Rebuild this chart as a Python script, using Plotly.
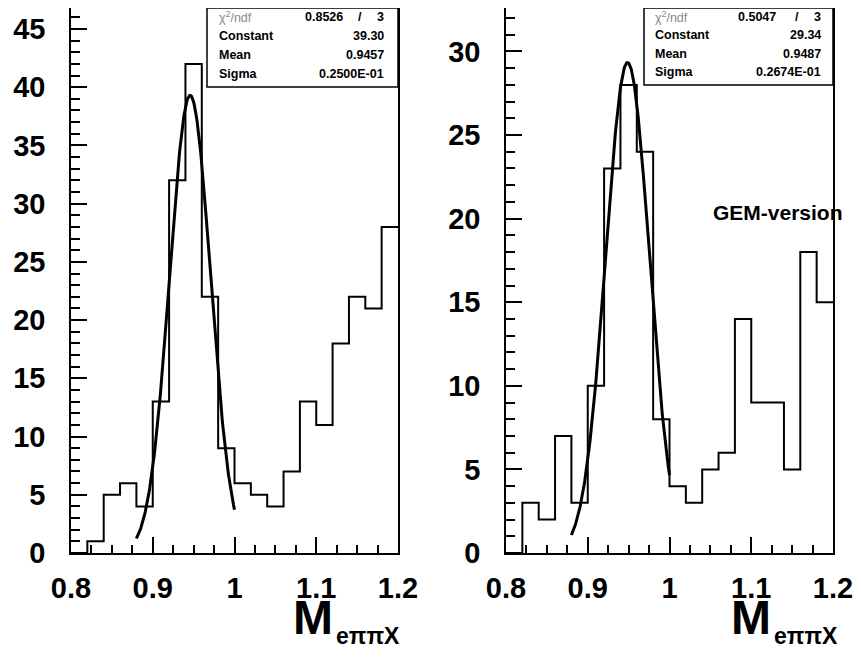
import numpy as np
import plotly.graph_objects as go

# ---------------- data ----------------
bin_edges = [0.80, 0.82, 0.84, 0.86, 0.88, 0.90, 0.92, 0.94, 0.96, 0.98, 1.00,
             1.02, 1.04, 1.06, 1.08, 1.10, 1.12, 1.14, 1.16, 1.18, 1.20]
left_counts = [0, 1, 5, 6, 4, 13, 32, 42, 22, 9, 6, 5, 4, 7, 13, 11, 18, 22, 21, 28]
right_counts = [0, 3, 2, 7, 3, 10, 23, 28, 24, 8, 4, 3, 5, 6, 14, 9, 9, 5, 18, 15]

# Gaussian fit results (from stats boxes) and fit range
left_fit = {"chi2": "0.8526", "ndf": "3", "const": 39.30, "mean": 0.9457, "sigma": 0.02500,
            "const_txt": "39.30", "mean_txt": "0.9457", "sigma_txt": "0.2500E-01"}
right_fit = {"chi2": "0.5047", "ndf": "3", "const": 29.34, "mean": 0.9487, "sigma": 0.02674,
             "const_txt": "29.34", "mean_txt": "0.9487", "sigma_txt": "0.2674E-01"}
fit_range = [0.88, 1.00]

x_tickvals = [0.8, 0.9, 1.0, 1.1, 1.2]
x_ticktext = ["0.8", "0.9", "1", "1.1", "1.2"]
left_yrange = [0, 46.8]
right_yrange = [0, 32.6]

# ---------------- layout helpers ----------------
# page body has an 8px margin: figure is sized to the visible window area
OFF = 8
W, H = 861 - OFF, 657 - OFF
def fx(px):
    return (px - OFF) / W
def fy(py):
    return min(1.0, 1 - (py - OFF) / H)

FONT = "Liberation Sans"

fig = go.Figure()

def add_panel(counts, fit, xa, ya):
    fig.add_trace(go.Scatter(
        x=bin_edges, y=counts + [counts[-1]], mode="lines",
        line=dict(shape="hv", color="black", width=2),
        xaxis=xa, yaxis=ya, hoverinfo="skip"))
    xf = np.linspace(fit_range[0], fit_range[1], 200)
    yf = fit["const"] * np.exp(-0.5 * ((xf - fit["mean"]) / fit["sigma"]) ** 2)
    fig.add_trace(go.Scatter(
        x=xf, y=yf, mode="lines", line=dict(color="black", width=3),
        xaxis=xa, yaxis=ya, hoverinfo="skip"))

add_panel(left_counts, left_fit, "x", "y")
add_panel(right_counts, right_fit, "x2", "y2")

tickfont = dict(family=FONT, size=29, color="black", weight="bold")

def xaxis_dict(d0, d1, anchor):
    return dict(domain=[fx(d0), fx(d1)], range=[0.8, 1.2], anchor=anchor,
                tickmode="array", tickvals=x_tickvals, ticktext=x_ticktext,
                ticks="inside", ticklen=16, tickwidth=1.5, tickcolor="black",
                minor=dict(tickmode="linear", tick0=0.8, dtick=0.025, ticks="inside",
                           ticklen=8, tickwidth=1.5, tickcolor="black", showgrid=False),
                showline=True, mirror=True, linecolor="black", linewidth=1.5,
                showgrid=False, zeroline=False, automargin=False,
                tickfont=tickfont, ticklabelstandoff=8, fixedrange=True)

def yaxis_dict(rng, anchor):
    return dict(domain=[fy(553), fy(7)], range=rng, anchor=anchor,
                tickmode="linear", tick0=0, dtick=5,
                ticks="inside", ticklen=16, tickwidth=1.5, tickcolor="black",
                minor=dict(tickmode="linear", tick0=0, dtick=1, ticks="inside",
                           ticklen=9, tickwidth=1.5, tickcolor="black", showgrid=False),
                showline=True, mirror=True, linecolor="black", linewidth=1.5,
                showgrid=False, zeroline=False, automargin=False,
                tickfont=tickfont, ticklabelstandoff=18, fixedrange=True)

shapes = []
annotations = []

def stats_box(fit, x0, x1, y1, lab_x, val_r, chi_r, slash_x, rows):
    shapes.append(dict(type="rect", xref="paper", yref="paper",
                       x0=fx(x0), x1=fx(x1), y0=fy(y1), y1=fy(7),
                       line=dict(color="black", width=1.5), fillcolor="white", layer="above"))
    sfont = dict(family=FONT, size=12.5, color="black", weight="bold")
    gfont = dict(family=FONT, size=12.5, color="#8a8a8a")
    def ann(text, x, y, anchor, font):
        annotations.append(dict(text=text, x=fx(x), y=fy(y), xref="paper", yref="paper",
                                xanchor=anchor, yanchor="middle", showarrow=False, font=font))
    ann("χ<sup>2</sup>/ndf", lab_x, rows[0], "left", gfont)
    ann(fit["chi2"], chi_r, rows[0], "right", sfont)
    ann("/", slash_x, rows[0], "center", sfont)
    ann(fit["ndf"], val_r, rows[0], "right", sfont)
    ann("Constant", lab_x, rows[1], "left", sfont)
    ann(fit["const_txt"], val_r, rows[1], "right", sfont)
    ann("Mean", lab_x, rows[2], "left", sfont)
    ann(fit["mean_txt"], val_r, rows[2], "right", sfont)
    ann("Sigma", lab_x, rows[3], "left", sfont)
    ann(fit["sigma_txt"], val_r, rows[3], "right", sfont)

stats_box(left_fit, 207, 398, 87, 217, 386, 345, 360, [17, 36, 55, 74])
stats_box(right_fit, 644, 833, 85, 653, 823, 778, 797, [17, 35, 54, 72])

def x_title(m_right, sub_left):
    annotations.append(dict(text="M", x=fx(m_right), y=fy(617), xref="paper", yref="paper",
                            xanchor="right", yanchor="middle", showarrow=False,
                            font=dict(family=FONT, size=48, color="black", weight="bold")))
    annotations.append(dict(text="eππX", x=fx(sub_left), y=fy(636), xref="paper", yref="paper",
                            xanchor="left", yanchor="middle", showarrow=False,
                            font=dict(family=FONT, size=23, color="black", weight="bold")))

x_title(335, 334)
x_title(773, 772)

annotations.append(dict(text="GEM-version", x=fx(711), y=fy(212), xref="paper", yref="paper",
                        xanchor="left", yanchor="middle", showarrow=False,
                        font=dict(family=FONT, size=21, color="black", weight="bold")))

fig.update_layout(
    template="none",
    width=W, height=H,
    margin=dict(l=0, r=0, t=0, b=0),
    paper_bgcolor="white", plot_bgcolor="white",
    showlegend=False,
    xaxis=xaxis_dict(71, 398, "y"),
    yaxis=yaxis_dict(left_yrange, "x"),
    xaxis2=xaxis_dict(506, 833, "y2"),
    yaxis2=yaxis_dict(right_yrange, "x2"),
    shapes=shapes,
    annotations=annotations,
)

fig.write_html("out.html")
